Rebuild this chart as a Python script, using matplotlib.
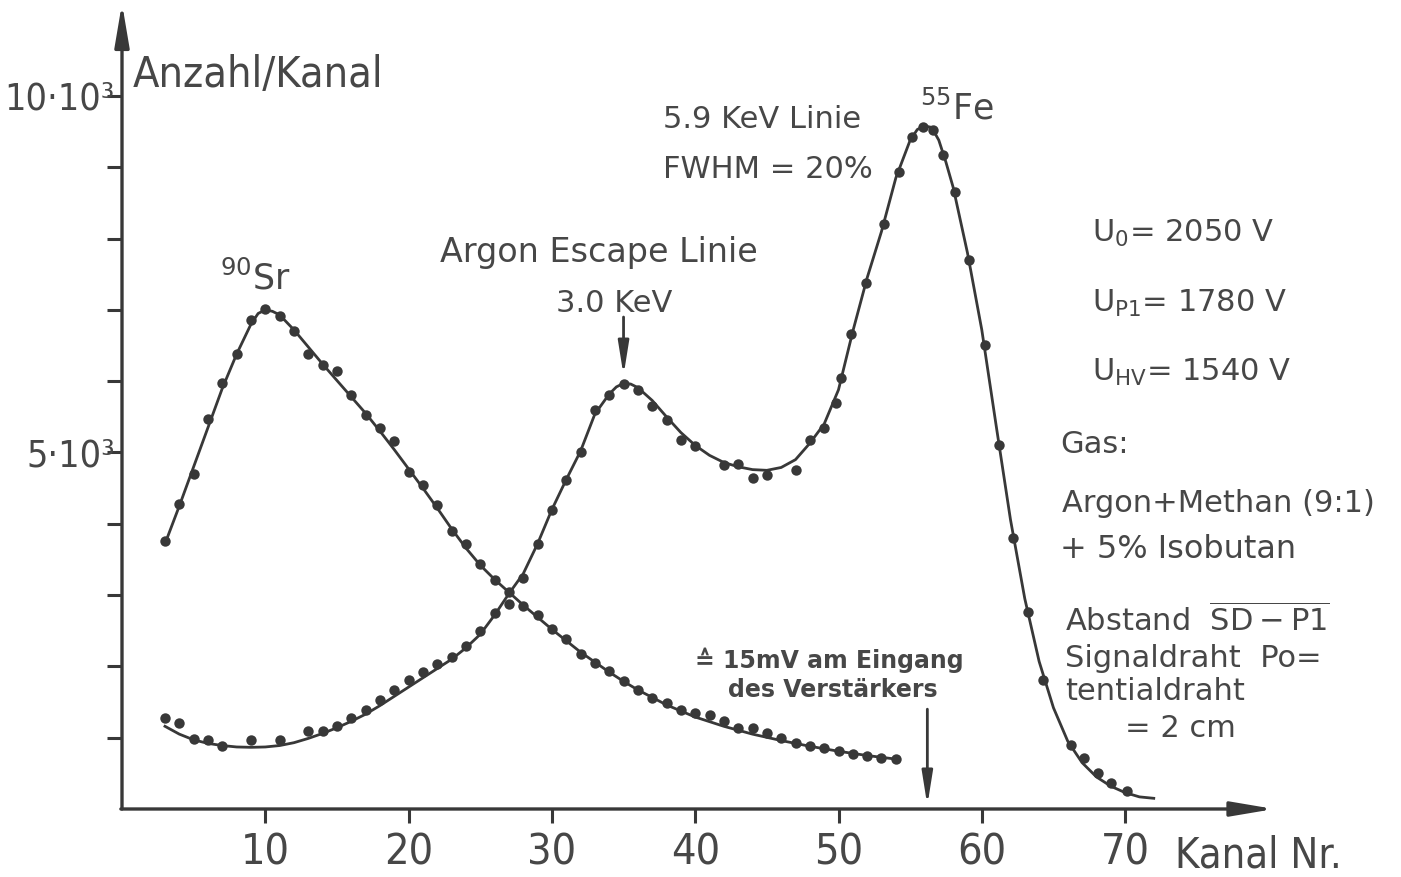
import matplotlib
matplotlib.use('Agg')
import matplotlib.pyplot as plt
from matplotlib import font_manager

# 90Sr spectrum: measured points (Kanal, Anzahl/Kanal)
sr_x = [3, 4, 5, 6, 7, 8, 9, 10, 11, 12, 13, 14, 15, 16, 17, 18, 19, 20, 21, 22,
        23, 24, 25, 26, 27, 28, 29, 30, 31, 32, 33, 34, 35, 36, 37, 38, 39, 40,
        41, 42, 43, 44, 45, 46, 47, 48, 49, 50, 51, 52, 53, 54]
sr_y = [3760, 4280, 4700, 5470, 5970, 6380, 6860, 7010, 6920, 6710, 6380, 6230,
        6140, 5800, 5520, 5340, 5160, 4730, 4550, 4270, 3900, 3710, 3430, 3210,
        3040, 2850, 2720, 2530, 2380, 2170, 2050, 1930, 1790, 1670, 1560, 1480,
        1390, 1350, 1320, 1230, 1140, 1130, 1070, 1000, 920, 890, 860, 820, 770,
        750, 720, 700]
# hand drawn curve through the 90Sr points
sr_fit_x = [3, 4, 5, 6, 7, 8, 9, 9.5, 10, 10.5, 11, 12, 13, 14, 15, 16, 17, 18,
            19, 20, 21, 22, 23, 24, 25, 26, 27, 28, 29, 30, 31, 32, 33, 34, 35,
            36, 38, 40, 42, 44, 46, 48, 50, 52, 54]
sr_fit_y = [3720, 4250, 4800, 5350, 5900, 6380, 6800, 6950, 7000, 6980, 6930,
            6720, 6480, 6240, 6010, 5780, 5550, 5300, 5040, 4770, 4500, 4220,
            3930, 3660, 3420, 3220, 3040, 2860, 2690, 2520, 2360, 2200, 2060,
            1920, 1790, 1670, 1460, 1290, 1160, 1050, 960, 880, 810, 750, 700]

# 55Fe spectrum: measured points
fe_x = [3, 4, 5, 6, 7, 9, 11, 13, 14, 15, 16, 17, 18, 19, 20, 21, 22, 23, 24, 25,
        26, 27, 28, 29, 30, 31, 32, 33, 34, 35, 36, 37, 38, 39, 40, 42, 43, 44,
        45, 47, 48, 49, 49.8, 50.2, 50.9, 51.9, 53.2, 54.2, 55.1, 55.9, 56.6,
        57.3, 58.1, 59.1, 60.2, 61.2, 62.2, 63.2, 64.3, 66.2, 67.1, 68.1, 69.0,
        70.1]
fe_y = [1270, 1210, 975, 967, 880, 967, 967, 1100, 1100, 1160, 1270, 1390, 1530,
        1670, 1810, 1920, 2030, 2130, 2290, 2490, 2750, 2880, 3240, 3710, 4190,
        4610, 5000, 5590, 5810, 5960, 5870, 5650, 5450, 5180, 5090, 4830, 4840,
        4640, 4690, 4750, 5170, 5350, 5690, 6040, 6660, 7380, 8210, 8940, 9420,
        9560, 9530, 9170, 8650, 7700, 6510, 5100, 3800, 2760, 1810, 900, 720,
        500, 360, 250]
# hand drawn curve through the 55Fe points
fe_fit_x = [3, 4, 5, 6, 7, 8, 9, 10, 11, 12, 13, 14, 15, 16, 17, 18, 19, 20, 21,
            22, 23, 24, 25, 26, 27, 28, 29, 30, 31, 32, 33, 34, 34.5, 35, 35.5,
            36, 37, 38, 39, 40, 41, 42, 43, 44, 45, 46, 47, 48, 49, 50, 51, 52,
            53, 54, 55, 55.5, 56, 56.5, 57, 57.5, 58, 59, 60, 61, 62, 63, 64, 65,
            66, 67, 68, 69, 70, 71, 72]
fe_fit_y = [1160, 1050, 970, 920, 890, 870, 865, 870, 890, 930, 990, 1060, 1140,
            1230, 1330, 1450, 1580, 1710, 1840, 1970, 2100, 2260, 2450, 2720,
            3020, 3300, 3720, 4200, 4620, 5020, 5540, 5820, 5920, 5970, 5960,
            5910, 5730, 5500, 5280, 5100, 4960, 4860, 4800, 4760, 4750, 4790,
            4900, 5130, 5400, 5880, 6700, 7450, 8100, 8850, 9380, 9530, 9580,
            9560, 9380, 9070, 8720, 7800, 6720, 5380, 4060, 2950, 2070, 1420,
            950, 650, 450, 320, 230, 170, 150]

x_ticks = [10, 20, 30, 40, 50, 60, 70]
y_ticks = [1000, 2000, 3000, 4000, 5000, 6000, 7000, 8000, 9000, 10000]
y_ticklabels = ['', '', '', '', '5·10³', '', '', '', '', '10·10³']

names = {f.name for f in font_manager.fontManager.ttflist}
narrow = 'Liberation Sans Narrow' if 'Liberation Sans Narrow' in names else 'DejaVu Sans'
plt.rcParams['font.family'] = ['DejaVu Sans']
plt.rcParams['mathtext.fontset'] = 'dejavusans'

ink = '#383838'
txt = '#474747'
axfont = dict(family=[narrow, 'DejaVu Sans'], fontstretch='condensed', color=txt)

fig = plt.figure(figsize=(14.01, 8.77), dpi=100)
fig.patch.set_facecolor('white')
ax = fig.add_axes([122 / 1401, 68 / 877, 84 * 14.33 / 1401, 11.3 * 71.3 / 877])
ax.set_xlim(0, 84)
ax.set_ylim(0, 11300)
for s in ax.spines.values():
    s.set_visible(False)

ax.plot(sr_fit_x, sr_fit_y, '-', color=ink, lw=2.0, solid_joinstyle='round')
ax.plot(sr_x, sr_y, 'o', color=ink, ms=7.5, mec='none')
ax.plot(fe_fit_x, fe_fit_y, '-', color=ink, lw=2.0, solid_joinstyle='round')
ax.plot(fe_x, fe_y, 'o', color=ink, ms=7.5, mec='none')

# axes with arrow heads
axis_arrow = dict(arrowstyle='-|>,head_length=1.3,head_width=0.22', lw=2.4,
                  color=ink, shrinkA=0, shrinkB=0, mutation_scale=20)
ax.annotate('', xy=(0, 11300), xytext=(0, 0), arrowprops=axis_arrow,
            annotation_clip=False)
ax.annotate('', xy=(80.4, 0), xytext=(-0.08, 0), arrowprops=axis_arrow,
            annotation_clip=False)

mark_arrow = dict(arrowstyle='-|>,head_length=1.0,head_width=0.16', lw=2.0,
                  color=ink, shrinkA=0, shrinkB=0, mutation_scale=20)
ax.annotate('', xy=(35, 6080), xytext=(35, 6900), arrowprops=mark_arrow)
ax.annotate('', xy=(56.2, 50), xytext=(56.2, 1400), arrowprops=mark_arrow)

ax.set_xticks(x_ticks)
ax.set_xticklabels([str(v) for v in x_ticks], fontsize=31, **axfont)
ax.set_yticks(y_ticks)
ax.set_yticklabels(y_ticklabels, fontsize=27, **axfont)
ax.tick_params(axis='x', direction='out', length=10, width=2.2, color=ink, pad=6)
ax.tick_params(axis='y', direction='out', length=11, width=2.2, color=ink, pad=-6)


def fx(px):
    return px / 1401


def fy(py):
    return 1 - py / 877


fig.text(fx(133), fy(87), 'Anzahl/Kanal', fontsize=31, va='baseline', **axfont)
fig.text(fx(1175), fy(868), 'Kanal Nr.', fontsize=30, va='baseline', **axfont)

big = dict(fontsize=22, color=txt, va='baseline')
fig.text(fx(220), fy(290), r'$^{90}$Sr', fontsize=25, color=txt, va='baseline')
fig.text(fx(440), fy(262), 'Argon Escape Linie', fontsize=24, color=txt,
         va='baseline')
fig.text(fx(556), fy(312), '3.0 KeV', **big)
fig.text(fx(663), fy(128), '5.9 KeV Linie', **big)
fig.text(fx(663), fy(178), 'FWHM = 20%', **big)
fig.text(fx(920), fy(120), r'$^{55}$Fe', fontsize=25, color=txt, va='baseline')
fig.text(fx(1092), fy(242), r'U$_0$= 2050 V', **big)
fig.text(fx(1092), fy(312), r'U$_{\mathrm{P1}}$= 1780 V', **big)
fig.text(fx(1092), fy(381), r'U$_{\mathrm{HV}}$= 1540 V', **big)
fig.text(fx(1060), fy(453), 'Gas:', **big)
fig.text(fx(1062), fy(512), 'Argon+Methan (9:1)', **big)
fig.text(fx(1060), fy(558), '+ 5% Isobutan', fontsize=23, color=txt,
         va='baseline')
fig.text(fx(1065), fy(632), r'Abstand  $\overline{\mathrm{SD-P1}}$', **big)
fig.text(fx(1065), fy(667), 'Signaldraht  Po=', **big)
fig.text(fx(1065), fy(700), 'tentialdraht', **big)
fig.text(fx(1125), fy(737), '= 2 cm', **big)

small = dict(fontsize=17, color=txt, va='baseline', fontweight='bold')
fig.text(fx(695), fy(668), '≙ 15mV am Eingang', **small)
fig.text(fx(728), fy(697), 'des Verstärkers', **small)

fig.savefig('out.png', dpi=100, facecolor='white')
